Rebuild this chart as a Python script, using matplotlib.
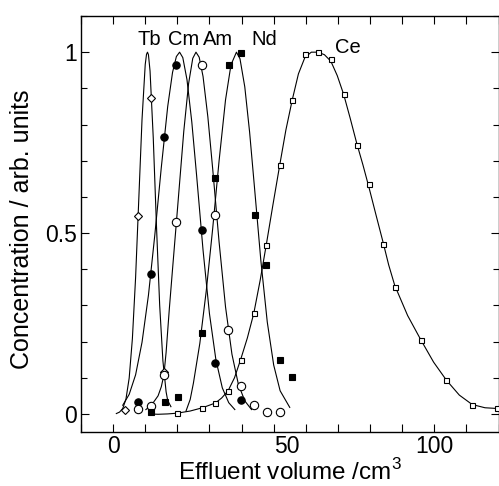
import matplotlib
matplotlib.use("Agg")
import matplotlib.pyplot as plt
from matplotlib.ticker import MultipleLocator, FixedLocator

plt.rcParams['font.family'] = ['Liberation Sans', 'DejaVu Sans']
plt.rcParams['mathtext.fontset'] = 'custom'
plt.rcParams['mathtext.rm'] = 'Liberation Sans'

# ---- measured points (effluent volume, concentration) ----
tb_v = [3.8, 7.7, 11.9, 15.8]
tb_c = [0.010, 0.546, 0.873, 0.116]

cm_v = [7.7, 11.9, 15.8, 19.7, 27.7, 31.7, 39.9]
cm_c = [0.034, 0.388, 0.765, 0.964, 0.509, 0.140, 0.038]

am_v = [7.7, 11.8, 15.8, 19.7, 27.7, 31.8, 35.8, 39.9, 43.9, 47.8, 51.9]
am_c = [0.013, 0.023, 0.107, 0.530, 0.964, 0.551, 0.232, 0.078, 0.025, 0.006, 0.005]

nd_v = [11.9, 16.0, 20.1, 27.8, 31.8, 36.1, 39.9, 44.1, 47.7, 51.9, 55.8]
nd_c = [0.005, 0.033, 0.046, 0.225, 0.652, 0.964, 0.998, 0.550, 0.413, 0.150, 0.102]

ce_v = [19.9, 27.8, 31.8, 35.8, 39.7, 43.8, 47.7, 51.9, 55.8, 59.7, 63.8, 67.8,
        71.8, 75.8, 79.7, 83.9, 87.7, 95.8, 103.8, 111.8, 119.6]
ce_c = [0.002, 0.017, 0.030, 0.064, 0.150, 0.278, 0.468, 0.689, 0.869, 0.994, 1.000, 0.980,
        0.883, 0.744, 0.636, 0.470, 0.350, 0.205, 0.093, 0.024, 0.015]

# ---- fitted curves ----
tb_fit_v = [1.0, 2.0, 3.0, 4.0, 5.0, 6.0, 7.0, 8.0, 9.0, 10.0, 10.4, 10.7, 11.0,
            11.5, 12.5, 13.5, 14.5, 15.5, 16.5, 17.0, 18.0]
tb_fit_c = [0.001, 0.005, 0.015, 0.041, 0.099, 0.208, 0.377, 0.595, 0.814, 0.966, 0.994, 1.0, 0.993,
            0.948, 0.763, 0.520, 0.300, 0.147, 0.061, 0.037, 0.020]

cm_fit_v = [3.0, 5.0, 7.0, 9.0, 11.0, 13.0, 15.0, 17.0, 18.5, 19.7, 20.7, 21.7, 23.0,
            24.5, 26.0, 28.0, 30.0, 32.0, 34.0, 36.0, 37.9]
cm_fit_c = [0.024, 0.054, 0.108, 0.198, 0.328, 0.496, 0.681, 0.850, 0.944, 0.988, 1.0, 0.985, 0.924,
            0.807, 0.659, 0.453, 0.277, 0.150, 0.072, 0.031, 0.012]

am_fit_v = [10.2, 12.0, 14.0, 15.0, 15.8, 16.5, 17.5, 18.5, 20.0, 22.0, 23.5, 24.8, 25.8,
            26.8, 28.0, 29.5, 31.0, 33.0, 35.0, 37.0, 39.0, 41.0, 43.1]
am_fit_c = [0.012, 0.025, 0.050, 0.075, 0.107, 0.170, 0.290, 0.400, 0.562, 0.781, 0.913, 0.983, 1.0,
            0.986, 0.933, 0.821, 0.678, 0.475, 0.296, 0.165, 0.082, 0.036, 0.012]

nd_fit_v = [22.7, 24.0, 25.0, 27.0, 29.0, 31.0, 33.0, 35.0, 36.7, 38.4, 39.5, 41.0,
            42.5, 44.0, 46.0, 48.0, 50.0, 52.0, 55.0]
nd_fit_c = [0.008, 0.040, 0.085, 0.195, 0.340, 0.512, 0.700, 0.868, 0.965, 1.0, 0.982, 0.904,
            0.779, 0.628, 0.424, 0.254, 0.135, 0.064, 0.018]

ce_fit_v = [11.2, 14.0, 17.0, 19.9, 24.0, 27.8, 31.8, 33.8, 35.8, 37.8, 39.7, 41.8, 43.8,
            45.8, 47.7, 49.8, 51.9, 53.8, 55.8, 57.7, 59.7, 61.7, 63.8, 65.8, 67.8,
            69.8, 71.8, 73.8, 75.8, 77.8, 79.7, 81.8, 83.9, 85.8, 87.7, 91.7, 95.8,
            99.8, 103.8, 107.8, 111.8, 115.8, 119.6, 121.0]
ce_fit_c = [0.000, -0.001, 0.000, 0.002, 0.008, 0.017, 0.030, 0.044, 0.064, 0.100, 0.150, 0.210, 0.278,
            0.370, 0.468, 0.580, 0.689, 0.785, 0.869, 0.940, 0.985, 1.000, 1.000, 0.993, 0.975,
            0.935, 0.883, 0.818, 0.750, 0.688, 0.625, 0.552, 0.480, 0.412, 0.355, 0.272, 0.205,
            0.143, 0.093, 0.052, 0.026, 0.017, 0.015, 0.015]

labels = ['Tb', 'Cm', 'Am', 'Nd', 'Ce']
label_x = [11.2, 21.9, 32.6, 47.1, 73.1]
label_y = [1.019, 1.019, 1.019, 1.019, 0.999]

x_ticks = [0, 50, 100]
x_ticklabels = ['0', '50', '100']
y_ticks = [0, 0.5, 1]
y_ticklabels = ['0', '0.5', '1']

fig = plt.figure(figsize=(4.99, 4.86), dpi=100)
ax = fig.add_axes([81 / 499, 1 - 432 / 486, (498.5 - 81) / 499, (432 - 16) / 486])

lw = 0.8
for fv, fc in [(tb_fit_v, tb_fit_c), (cm_fit_v, cm_fit_c), (am_fit_v, am_fit_c),
               (nd_fit_v, nd_fit_c), (ce_fit_v, ce_fit_c)]:
    ax.plot(fv, fc, color='black', lw=lw, zorder=2)

mew = 0.8
ax.plot(tb_v, tb_c, ls='none', marker='D', ms=4.3, mfc='white', mec='black', mew=mew, zorder=3)
ax.plot(cm_v, cm_c, ls='none', marker='o', ms=5.3, mfc='black', mec='black', mew=mew, zorder=3)
ax.plot(am_v, am_c, ls='none', marker='o', ms=6.0, mfc='white', mec='black', mew=mew, zorder=3)
ax.plot(nd_v, nd_c, ls='none', marker='s', ms=4.7, mfc='black', mec='black', mew=mew, zorder=3)
ax.plot(ce_v, ce_c, ls='none', marker='s', ms=3.6, mfc='white', mec='black', mew=mew, zorder=3)

for t, x, y in zip(labels, label_x, label_y):
    ax.text(x, y, t, ha='center', va='baseline', fontsize=14.5)

ax.set_xlim(-10, 120)
ax.set_ylim(-0.05, 1.1)

ax.xaxis.set_major_locator(FixedLocator(x_ticks))
ax.xaxis.set_minor_locator(MultipleLocator(10))
ax.yaxis.set_major_locator(FixedLocator(y_ticks))
ax.yaxis.set_minor_locator(MultipleLocator(0.1))
ax.set_xticklabels(x_ticklabels)
ax.set_yticklabels(y_ticklabels)

ax.tick_params(axis='both', which='both', direction='in', top=True, right=True,
               width=0.8, labelsize=16.5)
ax.tick_params(axis='x', which='both', length=6, pad=2)
ax.tick_params(axis='y', which='major', length=5.5, pad=3)
ax.tick_params(axis='y', which='minor', length=4)
for sp in ax.spines.values():
    sp.set_linewidth(1.0)

# the "50" label sits to the right of its tick in the reference
ax.xaxis.get_major_ticks()[1].label1.set_horizontalalignment('left')

ax.set_xlabel(r'Effluent volume /cm$^{\mathrm{3}}$', fontsize=17.5)
ax.xaxis.label.set_va('baseline')
ax.xaxis.set_label_coords(0.5, (432 - 480) / 416)
ax.set_ylabel('Concentration / arb. units', fontsize=18)
ax.yaxis.label.set_va('center')
ax.yaxis.set_label_coords((22 - 81) / 417.5, (432 - 229) / 416)

fig.savefig('out.png', dpi=100)
